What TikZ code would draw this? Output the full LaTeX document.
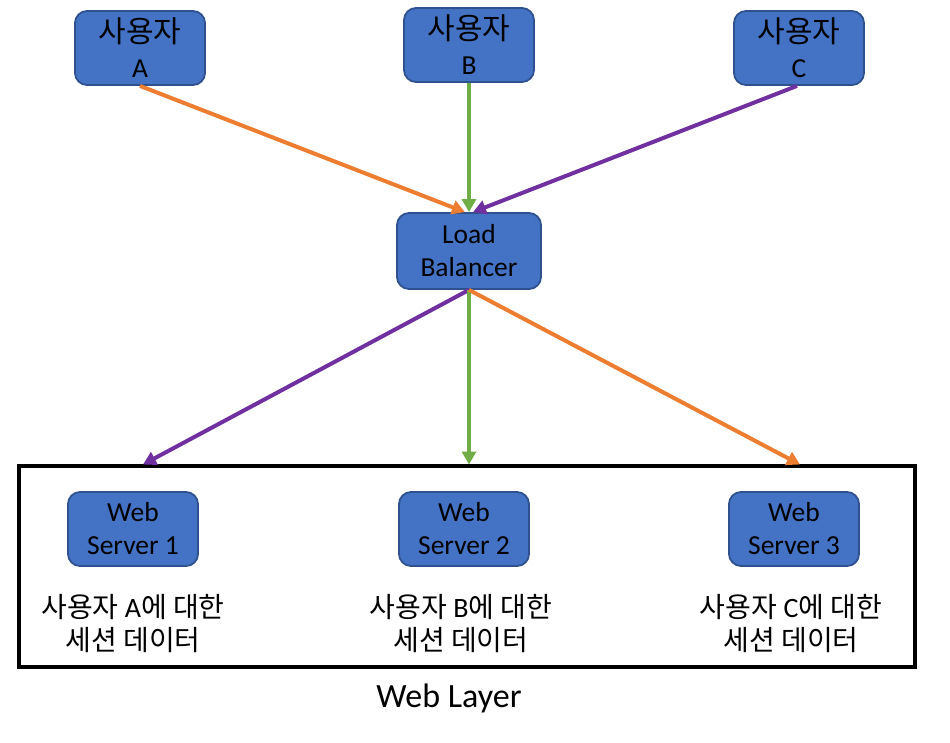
\documentclass[tikz,border=0pt]{standalone}
\usepackage{fontspec}
\setmainfont{Carlito}
\newfontfamily\kr{Noto Sans CJK KR}
\usetikzlibrary{arrows.meta}
\definecolor{boxblue}{HTML}{4472C4}
\definecolor{boxedge}{HTML}{2F528F}
\definecolor{arrorange}{HTML}{ED7D31}
\definecolor{arrgreen}{HTML}{70AD47}
\definecolor{arrpurple}{HTML}{7030A0}
\begin{document}
\begin{tikzpicture}[x=1pt,y=-1pt,
  box/.style={draw=boxedge, line width=1.8pt, fill=boxblue, rounded corners=12pt,
    minimum width=130pt, minimum height=74pt, align=center, inner sep=0pt,
    font=\fontsize{27.5}{33}\selectfont},
  userbox/.style={box, font=\fontsize{27.5}{35}\selectfont},
  caption/.style={align=center, inner sep=0pt, font=\fontsize{28}{33}\selectfont},
  link/.style={line width=4pt, -{Triangle[length=13pt,width=14pt]}}]
\useasboundingbox (0,0) rectangle (950,742);

\node[userbox] (ua) at (140,48) {{\kr\fontsize{30}{35}\selectfont 사용자}\\A};
\node[userbox] (ub) at (469,45) {{\kr\fontsize{30}{35}\selectfont 사용자}\\B};
\node[userbox] (uc) at (799,48) {{\kr\fontsize{30}{35}\selectfont 사용자}\\C};

\node[box, minimum width=144pt, minimum height=76pt] (lb) at (469,251) {Load\\Balancer};

\node[draw=black, line width=4.5pt, minimum width=896pt, minimum height=201pt, inner sep=0pt] (wl) at (467,566.5) {};

\node[box] (ws1) at (133,529) {Web\\Server 1};
\node[box] (ws2) at (464,529) {Web\\Server 2};
\node[box] (ws3) at (794,529) {Web\\Server 3};

\node[caption] (d1) at (133,624) {{\kr 사용자} A{\kr 에 대한}\\{\kr 세션 데이터}};
\node[caption] (d2) at (461,624) {{\kr 사용자} B{\kr 에 대한}\\{\kr 세션 데이터}};
\node[caption] (d3) at (791,624) {{\kr 사용자} C{\kr 에 대한}\\{\kr 세션 데이터}};

\node[font=\fontsize{34}{40}\selectfont, inner sep=0pt] (wlabel) at (449,698) {Web Layer};

\coordinate (t1) at (143,464.5);
\coordinate (t2) at (469,464.5);
\coordinate (t3) at (800,464.5);

\draw[link, arrorange] (ua.south) -- ([xshift=-4pt]lb.north);
\draw[link, arrgreen] (ub.south) -- (lb.north);
\draw[link, arrpurple] ([xshift=-2pt]uc.south) -- ([xshift=4pt]lb.north);

\draw[link, arrpurple] (lb.south) -- (t1);
\draw[link, arrgreen] (lb.south) -- (t2);
\draw[link, arrorange] (lb.south) -- (t3);
\end{tikzpicture}
\end{document}
